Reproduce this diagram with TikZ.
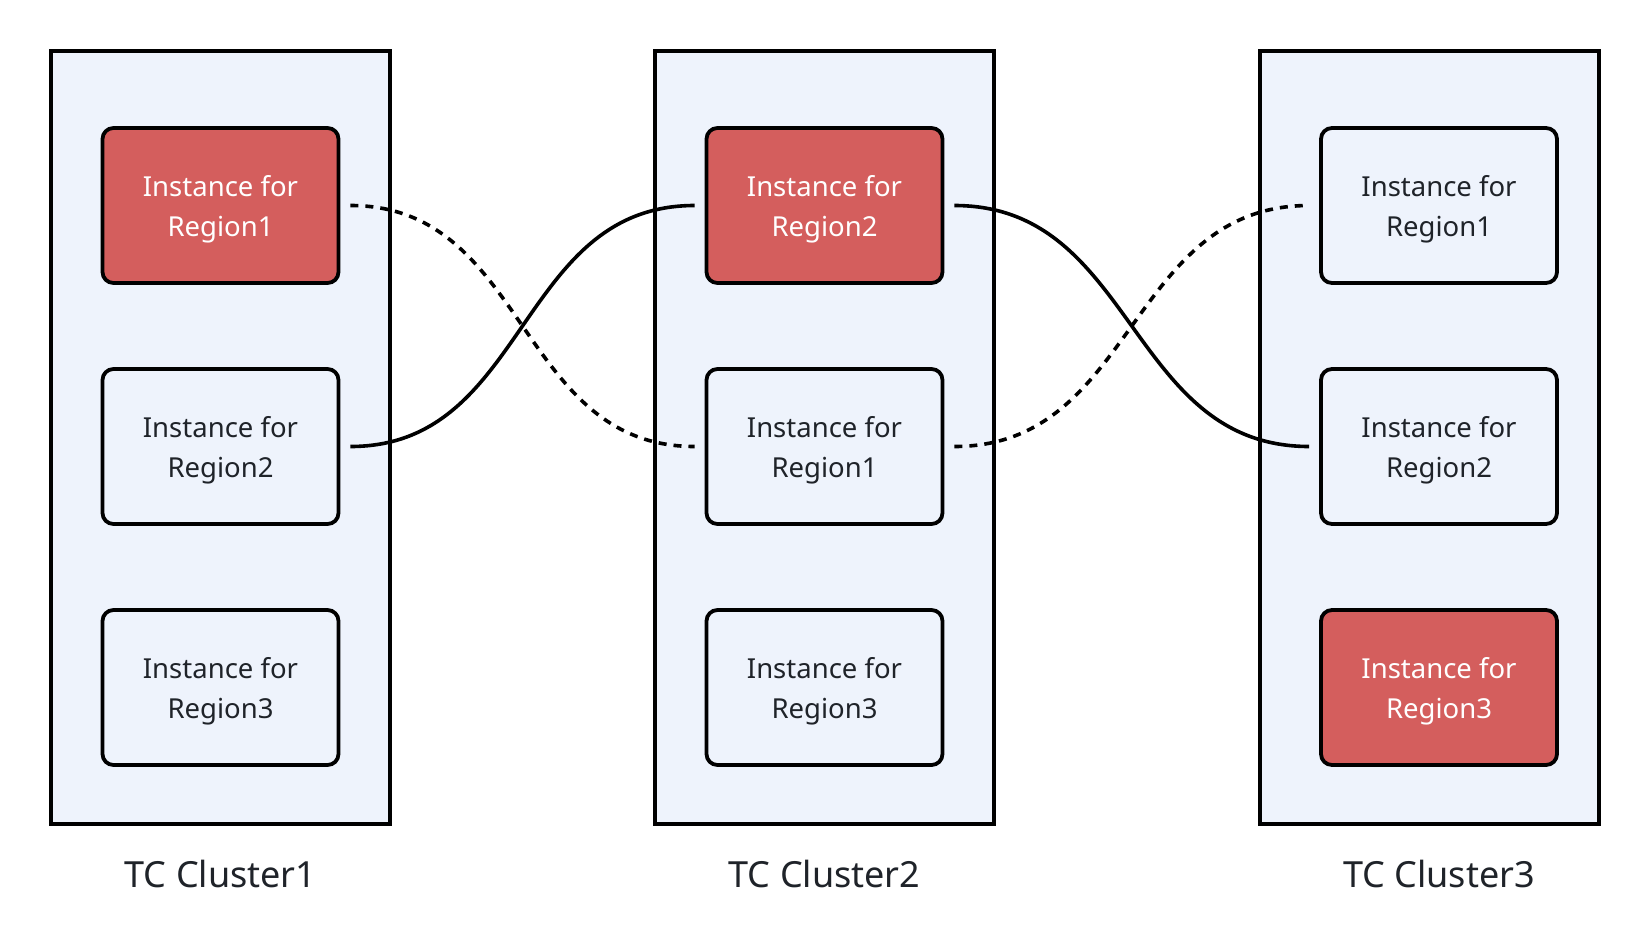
\documentclass[tikz,border=0pt]{standalone}
\usepackage{fontspec}
\setmainfont{Noto Sans}
\usetikzlibrary{calc}
\definecolor{bgblue}{HTML}{EEF3FC}
\definecolor{redfill}{HTML}{D45E5D}
\definecolor{txt}{HTML}{1F2329}
\begin{document}
\begin{tikzpicture}[x=1pt,y=-1pt,
 cluster/.style={draw=black, line width=4pt, fill=bgblue, minimum width=339pt, minimum height=773pt, inner sep=0pt},
 inst/.style={draw=black, line width=3.8pt, rounded corners=11pt, fill=bgblue, minimum width=236pt, minimum height=155pt, align=center, font=\fontsize{27.5}{40}\selectfont, text=txt, inner sep=0pt, text depth=0pt},
 hot/.style={inst, fill=redfill, text=white},
 lab/.style={font=\fontsize{36}{44}\selectfont, text=txt, anchor=base},
 link/.style={line width=3.6pt, shorten <=10pt, shorten >=10pt},
 dlink/.style={link, dash pattern=on 8pt off 7pt}
]
\useasboundingbox (0,0) rectangle (1650,946);
\fill[white] (0,0) rectangle (1650,946);

\node[cluster] (c1) at (220.5,437) {};
\node[cluster] (c2) at (824.5,437) {};
\node[cluster] (c3) at (1429.5,437) {};

\node[hot]  (a1) at (220.5,205.5) {Instance for\\Region1};
\node[inst] (a2) at (220.5,446.5) {Instance for\\Region2};
\node[inst] (a3) at (220.5,687.5) {Instance for\\Region3};

\node[hot]  (b2) at (824.5,205.5) {Instance for\\Region2};
\node[inst] (b1) at (824.5,446.5) {Instance for\\Region1};
\node[inst] (b3) at (824.5,687.5) {Instance for\\Region3};

\node[inst] (d1) at (1439,205.5) {Instance for\\Region1};
\node[inst] (d2) at (1439,446.5) {Instance for\\Region2};
\node[hot]  (d3) at (1439,687.5) {Instance for\\Region3};

\node[lab] (l1) at (220.5,887) {TC Cluster1};
\node[lab] (l2) at (824.5,887) {TC Cluster2};
\node[lab] (l3) at (1439,887) {TC Cluster3};

\draw[link]  (a2.east) to[out=0,in=180,looseness=1.1] (b2.west);
\draw[dlink] (a1.east) to[out=0,in=180,looseness=1.1] (b1.west);
\draw[link]  (b2.east) to[out=0,in=180,looseness=1.1] (d2.west);
\draw[dlink] (b1.east) to[out=0,in=180,looseness=1.1] (d1.west);
\end{tikzpicture}
\end{document}
